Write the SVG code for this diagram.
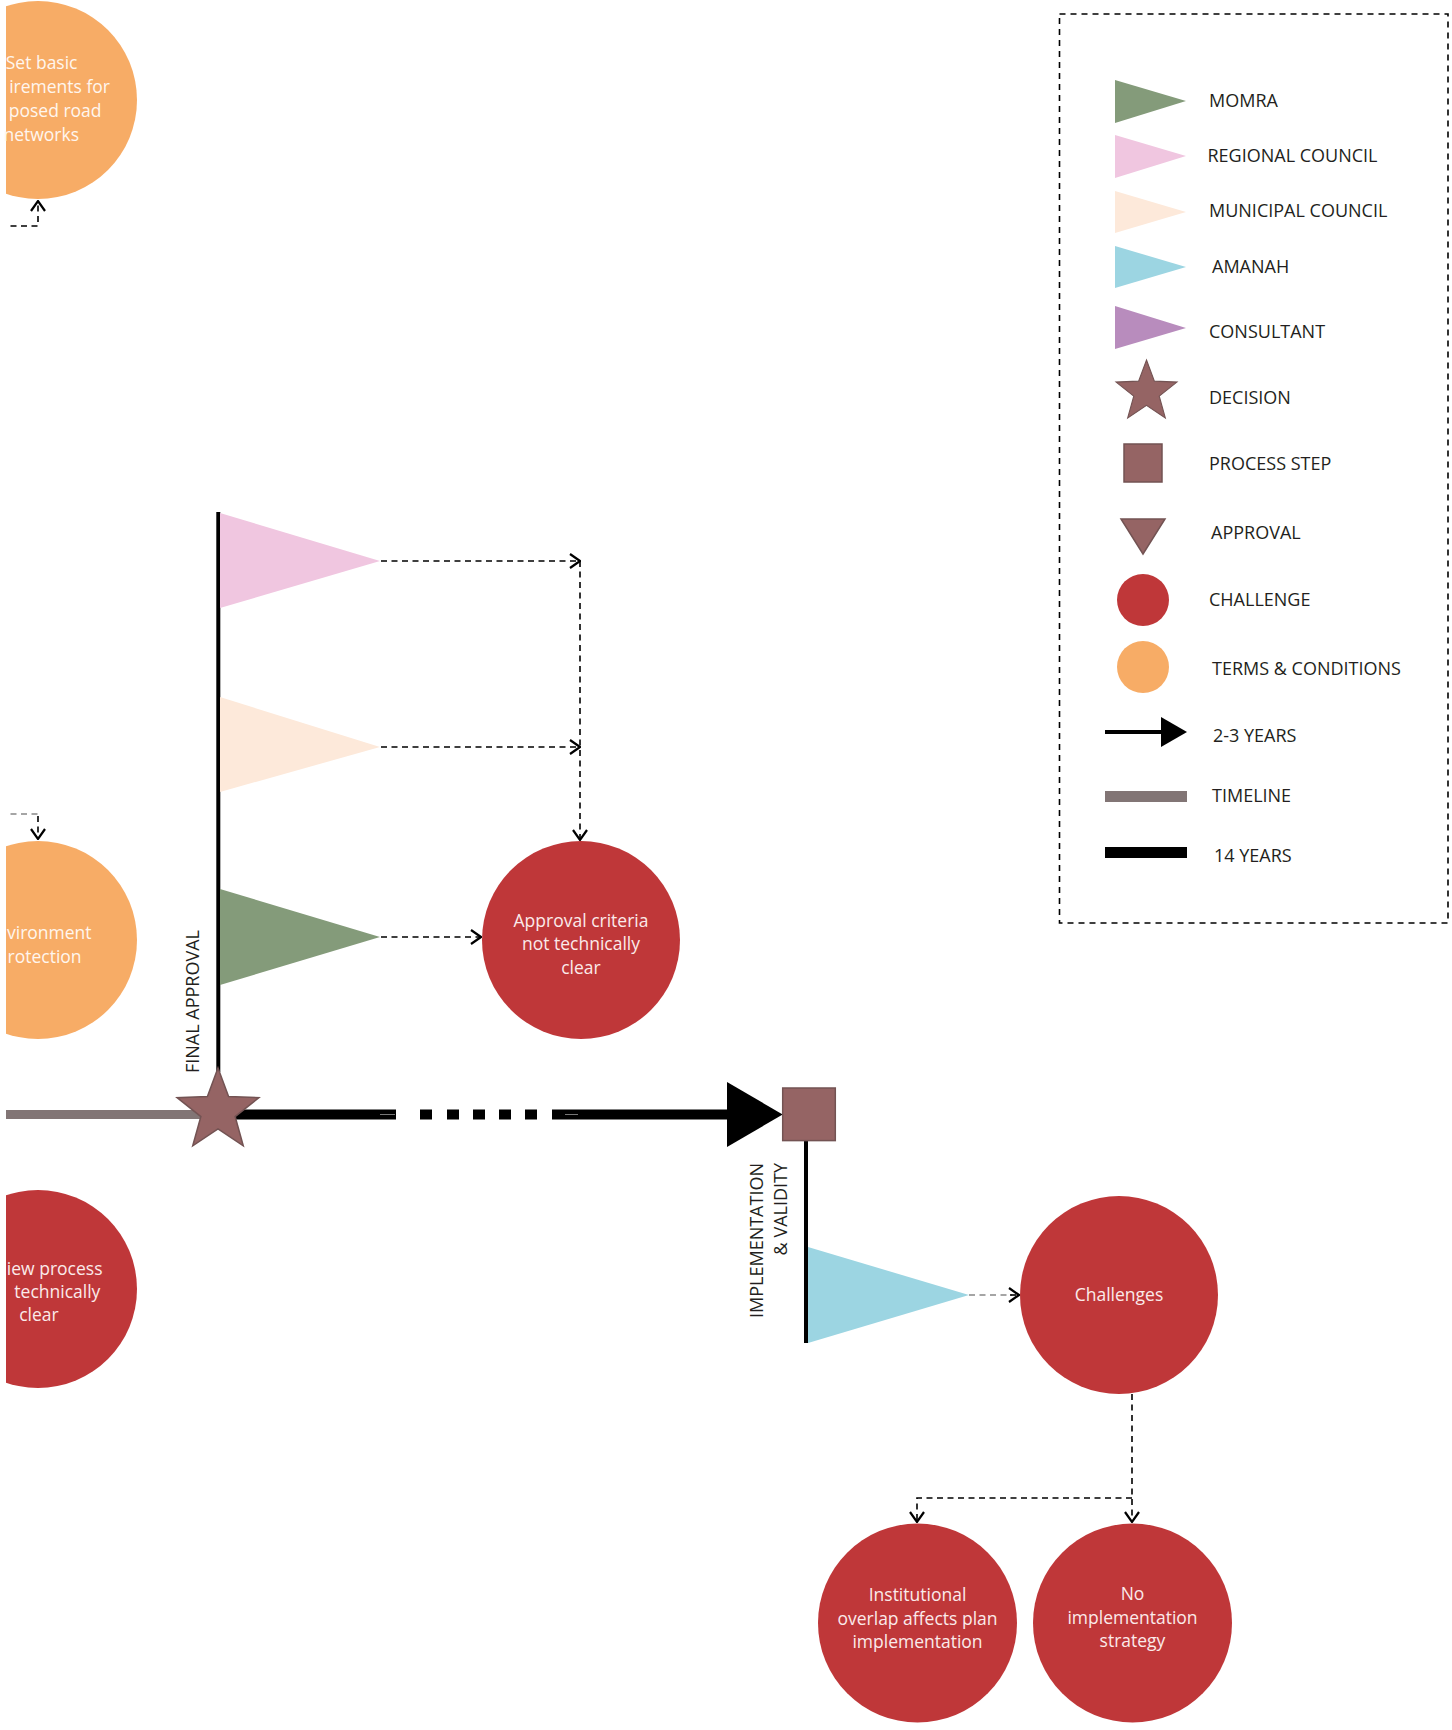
<svg xmlns="http://www.w3.org/2000/svg" width="1452" height="1730" viewBox="0 0 1452 1730">
<style>
.lg{font-family:"Open Sans","Liberation Sans",sans-serif;font-size:18px;fill:#231f20}
.ct{font-family:"Open Sans","Liberation Sans",sans-serif;font-size:17.5px;fill:#fbeaea;text-anchor:middle}
.ot{font-family:"Open Sans","Liberation Sans",sans-serif;font-size:17.5px;fill:#fff6ee;text-anchor:end}
.ce{font-family:"Open Sans","Liberation Sans",sans-serif;font-size:17.5px;fill:#fbeaea;text-anchor:end}
.red{fill:#bf3739}
.org{fill:#f7ac66}
.dash{fill:none;stroke:#000;stroke-width:1.6;stroke-dasharray:6 4.5}
.gdash{fill:none;stroke:#888;stroke-width:1.6;stroke-dasharray:6 4.5}
.brown{fill:#956464;stroke:#735353;stroke-width:1.5}
</style>
<defs>
<marker id="chev" markerUnits="userSpaceOnUse" viewBox="0 0 12 16" refX="11" refY="8" markerWidth="12" markerHeight="16" orient="auto">
<path d="M1,1 L11,8 L1,15" fill="none" stroke="#000" stroke-width="2.2"/>
</marker>
<path id="star" d="M0,-43 L10.58,-14.56 L40.9,-13.29 L17.12,5.56 L25.27,34.79 L0,18 L-25.27,34.79 L-17.12,5.56 L-40.9,-13.29 L-10.58,-14.56 Z"/>
<clipPath id="cl"><rect x="6" y="0" width="1446" height="1730"/></clipPath>
</defs>
<rect width="1452" height="1730" fill="#fff"/>

<g clip-path="url(#cl)">
<g id="connectors">
<path class="dash" d="M0,226 H38 V201" marker-end="url(#chev)"/>
<path class="gdash" d="M0,814 H38"/>
<path class="dash" d="M38,816 V839" marker-end="url(#chev)"/>
<path class="dash" d="M381,561 H580" marker-end="url(#chev)"/>
<path class="dash" d="M580,561 V840" marker-end="url(#chev)"/>
<path class="dash" d="M381,747 H580" marker-end="url(#chev)"/>
<path class="dash" d="M381,937 H481" marker-end="url(#chev)"/>
<path class="gdash" d="M969,1295 H1012"/>
<path class="dash" d="M1010,1295 H1019" stroke-dasharray="none" marker-end="url(#chev)"/>
<path class="dash" d="M1132,1394 V1522" marker-end="url(#chev)"/>
<path class="dash" d="M1132,1498 H917 V1522" marker-end="url(#chev)"/>
</g>

<g id="timeline">
<rect x="0" y="1110" width="220" height="9" fill="#827575"/>
<rect x="230" y="1109.5" width="166" height="10" fill="#000"/>
<rect x="420" y="1109.5" width="12" height="10" fill="#000"/>
<rect x="447" y="1109.5" width="12" height="10" fill="#000"/>
<rect x="473" y="1109.5" width="12" height="10" fill="#000"/>
<rect x="499" y="1109.5" width="12" height="10" fill="#000"/>
<rect x="525" y="1109.5" width="12" height="10" fill="#000"/>
<rect x="552" y="1109.5" width="177" height="10" fill="#000"/>
<line x1="380" y1="1114.5" x2="395" y2="1114.5" stroke="#777" stroke-width="1"/>
<line x1="565" y1="1114.5" x2="578" y2="1114.5" stroke="#777" stroke-width="1"/>
<polygon points="727,1082 782.7,1114.5 727,1147" fill="#000"/>
</g>

<g id="final-approval">
<rect x="216.3" y="512" width="4" height="560" fill="#000"/>
<polygon points="220,513 380,561 220,608" fill="#f0c6e0"/>
<polygon points="220,697 380,747 220,792" fill="#fde9da"/>
<polygon points="220,889 380,937 220,985" fill="#849b7a"/>
<use href="#star" x="218" y="1111" class="brown"/>
<text class="lg" transform="translate(199,1073) rotate(-90)">FINAL APPROVAL</text>
</g>

<g id="implementation">
<rect x="804" y="1140" width="4" height="203" fill="#000"/>
<polygon points="808,1247 969,1295 808,1343" fill="#9cd5e2"/>
<rect x="782.7" y="1088" width="52.6" height="52.6" class="brown"/>
<text class="lg" text-anchor="end" transform="translate(763,1163) rotate(-90)">IMPLEMENTATION</text>
<text class="lg" text-anchor="end" transform="translate(787,1163) rotate(-90)">&amp; VALIDITY</text>
</g>

<g id="node-road">
<circle cx="38" cy="100" r="99" class="org"/>
</g>
<g id="node-env">
<circle cx="38" cy="940" r="99" class="org"/>
</g>
<g id="node-review">
<circle cx="38" cy="1289" r="99" class="red"/>
</g>
</g>

<g id="node-road-text">
<text class="ot" x="77.5" y="69">Set basic</text>
<text class="ot" x="110" y="93">irements for</text>
<text class="ot" x="101.5" y="117">posed road</text>
<text class="ot" x="79" y="141">networks</text>
</g>
<g id="node-env-text">
<text class="ot" x="91.6" y="939">vironment</text>
<text class="ot" x="81.6" y="963">rotection</text>
</g>
<g id="node-review-text">
<text class="ce" x="102.5" y="1275">iew process</text>
<text class="ce" x="100.4" y="1298">technically</text>
<text class="ct" x="39" y="1321">clear</text>
</g>

<g id="node-approval-criteria">
<circle cx="581" cy="940" r="99" class="red"/>
<text class="ct" x="581" y="927">Approval criteria</text>
<text class="ct" x="581" y="950">not technically</text>
<text class="ct" x="581" y="974">clear</text>
</g>

<g id="node-challenges">
<circle cx="1119" cy="1295" r="99" class="red"/>
<text class="ct" x="1119" y="1301">Challenges</text>
</g>

<g id="node-overlap">
<circle cx="917.5" cy="1623" r="99.5" class="red"/>
<text class="ct" x="917.5" y="1601">Institutional</text>
<text class="ct" x="917.5" y="1625">overlap affects plan</text>
<text class="ct" x="917.5" y="1648">implementation</text>
</g>

<g id="node-strategy">
<circle cx="1132.5" cy="1623" r="99.5" class="red"/>
<text class="ct" x="1132.5" y="1600">No</text>
<text class="ct" x="1132.5" y="1624">implementation</text>
<text class="ct" x="1132.5" y="1647">strategy</text>
</g>

<g id="legend">
<rect x="1059.5" y="14" width="388.5" height="909" fill="none" stroke="#000" stroke-width="1.6" stroke-dasharray="6 5"/>
<polygon points="1115,80 1186,101 1115,123" fill="#849b7a"/>
<text class="lg" x="1209" y="107">MOMRA</text>
<polygon points="1115,135 1186,156 1115,178" fill="#f0c6e0"/>
<text class="lg" x="1207.5" y="162">REGIONAL COUNCIL</text>
<polygon points="1115,191 1186,212 1115,233" fill="#fde9da"/>
<text class="lg" x="1209" y="217">MUNICIPAL COUNCIL</text>
<polygon points="1115,246 1186,267 1115,288" fill="#9cd5e2"/>
<text class="lg" x="1212" y="273">AMANAH</text>
<polygon points="1115,306 1186,328 1115,349" fill="#b88cbd"/>
<text class="lg" x="1209" y="338">CONSULTANT</text>
<use href="#star" transform="translate(1146.5,392) scale(0.744)" class="brown"/>
<text class="lg" x="1209" y="404">DECISION</text>
<rect x="1124" y="444" width="38" height="38" class="brown"/>
<text class="lg" x="1209" y="470">PROCESS STEP</text>
<polygon points="1121,519 1165,519 1143,554" class="brown"/>
<text class="lg" x="1211" y="539">APPROVAL</text>
<circle cx="1143" cy="600" r="26" class="red"/>
<text class="lg" x="1209" y="606">CHALLENGE</text>
<circle cx="1143" cy="667" r="26" class="org"/>
<text class="lg" x="1212" y="675">TERMS &amp; CONDITIONS</text>
<rect x="1105" y="730" width="58" height="4" fill="#000"/>
<polygon points="1161,717 1187,732 1161,747" fill="#000"/>
<text class="lg" x="1213" y="742">2-3 YEARS</text>
<rect x="1105" y="791" width="82" height="11" fill="#827575"/>
<text class="lg" x="1212" y="802">TIMELINE</text>
<rect x="1105" y="847" width="82" height="11" fill="#000"/>
<text class="lg" x="1214" y="862">14 YEARS</text>
</g>
</svg>
